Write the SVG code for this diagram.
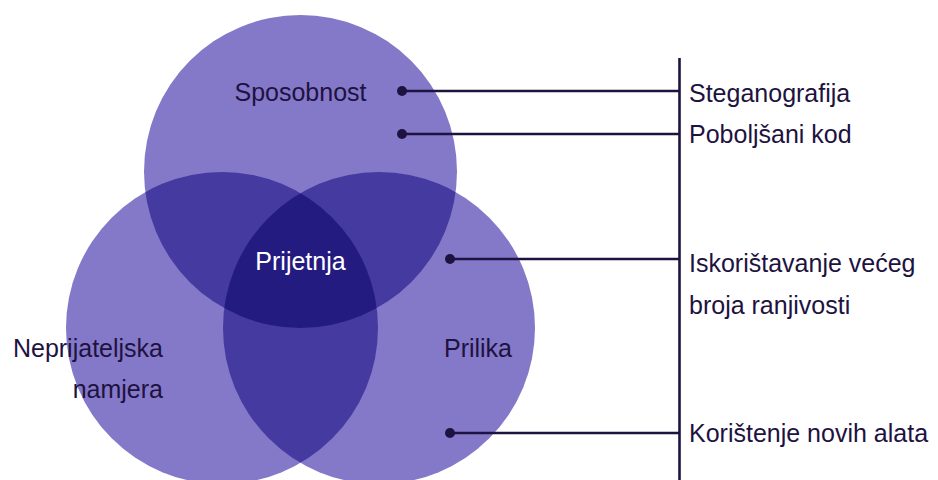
<svg xmlns="http://www.w3.org/2000/svg" width="938" height="480" viewBox="0 0 938 480">
<style>
.c1{fill:#8478C9}
.c2{fill:#453A9F}
.c3{fill:#241B80}
.t{font-family:"Liberation Sans",Arial,sans-serif;font-size:25px;fill:#1E1240}
.w{fill:#FFFFFF}
.ln{stroke:#1E1240;stroke-width:2.6;fill:none}
.dot{fill:#1E1240}
</style>
<defs>
<clipPath id="clipTop"><circle cx="300.5" cy="171.5" r="156.5"/></clipPath>
<clipPath id="clipLeft"><circle cx="222" cy="328" r="156"/></clipPath>
<clipPath id="clipRight"><circle cx="379" cy="328" r="156"/></clipPath>
</defs>
<rect width="938" height="480" fill="#FFFFFF"/>
<g id="venn">
<g id="circle-top"><circle class="c1" cx="300.5" cy="171.5" r="156.5"/></g>
<g id="circle-left"><circle class="c1" cx="222" cy="328" r="156"/></g>
<g id="circle-right"><circle class="c1" cx="379" cy="328" r="156"/></g>
<g id="overlap-top-left" clip-path="url(#clipTop)"><circle class="c2" cx="222" cy="328" r="156"/></g>
<g id="overlap-top-right" clip-path="url(#clipTop)"><circle class="c2" cx="379" cy="328" r="156"/></g>
<g id="overlap-left-right" clip-path="url(#clipLeft)"><circle class="c2" cx="379" cy="328" r="156"/></g>
<g id="overlap-all" clip-path="url(#clipTop)"><g clip-path="url(#clipLeft)"><circle class="c3" cx="379" cy="328" r="156"/></g></g>
</g>
<g id="labels">
<g id="node-sposobnost"><text class="t" x="300.5" y="101" text-anchor="middle">Sposobnost</text></g>
<g id="node-prijetnja"><text class="t w" x="300.5" y="270" text-anchor="middle">Prijetnja</text></g>
<g id="node-namjera"><text class="t" x="163" y="357" text-anchor="end">Neprijateljska</text><text class="t" x="163" y="398" text-anchor="end">namjera</text></g>
<g id="node-prilika"><text class="t" x="478" y="357" text-anchor="middle">Prilika</text></g>
</g>
<g id="connectors">
<line class="ln" x1="679.5" y1="58" x2="679.5" y2="480"/>
<line class="ln" x1="402" y1="91" x2="679.5" y2="91"/>
<line class="ln" x1="402" y1="134" x2="679.5" y2="134"/>
<line class="ln" x1="450" y1="259" x2="679.5" y2="259"/>
<line class="ln" x1="450" y1="433" x2="679.5" y2="433"/>
<circle class="dot" cx="402" cy="91" r="5"/>
<circle class="dot" cx="402" cy="134" r="5"/>
<circle class="dot" cx="450" cy="259" r="5"/>
<circle class="dot" cx="450" cy="433" r="5"/>
</g>
<g id="items">
<g id="item-steganografija"><text class="t" x="689" y="101.5">Steganografija</text></g>
<g id="item-poboljsani"><text class="t" x="689" y="143">Poboljšani kod</text></g>
<g id="item-iskoristavanje"><text class="t" x="689" y="272">Iskorištavanje većeg</text><text class="t" x="689" y="314">broja ranjivosti</text></g>
<g id="item-koristenje"><text class="t" x="689" y="442">Korištenje novih alata</text></g>
</g>
</svg>
